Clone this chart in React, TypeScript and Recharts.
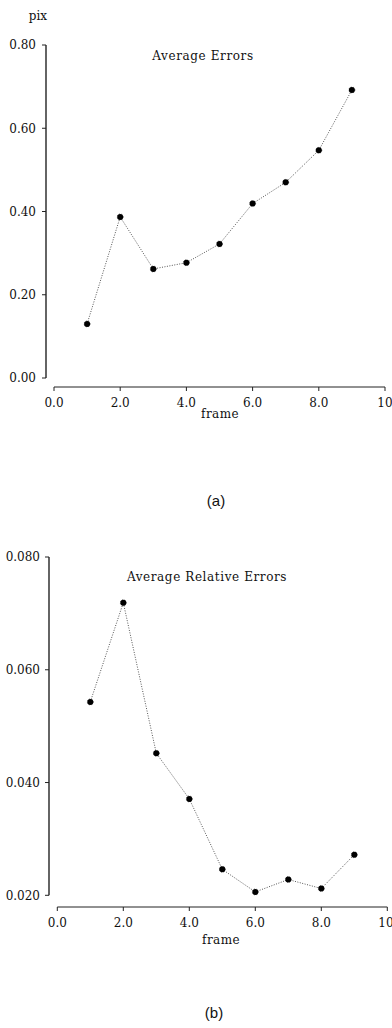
import { LineChart, Line, XAxis, YAxis } from "recharts";

const frames = [1, 2, 3, 4, 5, 6, 7, 8, 9];
const avgErrors = [0.13, 0.387, 0.262, 0.277, 0.322, 0.419, 0.47, 0.547, 0.692];
const avgRelErrors = [0.0543, 0.0719, 0.0452, 0.0371, 0.0246, 0.0206, 0.0228, 0.0212, 0.0272];
const xTicks = [0, 2, 4, 6, 8, 10];
const errTicks = [0, 0.2, 0.4, 0.6, 0.8];
const relTicks = [0.02, 0.04, 0.06, 0.08];

const errData = frames.map((f, i) => ({ frame: f, value: avgErrors[i] }));
const relData = frames.map((f, i) => ({ frame: f, value: avgRelErrors[i] }));

const serif = "DejaVu Serif";
const tickStyle = { fontFamily: serif, fontSize: 12, fill: "#111" };
const fmtX = (v: number) => (v === 10 ? "10" : v.toFixed(1));

const textBox = (left: number, top: number, size: number, family: string, spacing = 0) => ({
  position: "absolute" as const,
  left,
  top,
  transform: "translate(-50%, -50%)",
  fontFamily: family,
  fontSize: size,
  letterSpacing: spacing,
  lineHeight: 1,
  whiteSpace: "nowrap" as const,
  color: "#111",
});

function Plot({
  data,
  height,
  margin,
  yTicks,
  yDomain,
  yFmt,
  shiftY,
  shiftX,
  yTickMargin,
  xTickMargin,
}: {
  data: { frame: number; value: number }[];
  height: number;
  margin: { top: number; right: number; bottom: number; left: number };
  yTicks: number[];
  yDomain: [number, number];
  yFmt: (v: number) => string;
  shiftY: number;
  shiftX: number;
  yTickMargin: number;
  xTickMargin: number;
}) {
  return (
    <LineChart width={392} height={height} data={data} margin={margin}>
      <XAxis
        type="number"
        dataKey="frame"
        domain={[0, 10]}
        ticks={xTicks}
        tickFormatter={fmtX}
        height={30}
        tickSize={4}
        tickMargin={xTickMargin}
        tick={tickStyle}
        axisLine={{ stroke: "#222", strokeWidth: 1, transform: `translate(0 ${shiftY})` }}
        tickLine={{ stroke: "#222", transform: `translate(0 ${shiftY})` }}
      />
      <YAxis
        type="number"
        domain={yDomain}
        ticks={yTicks}
        tickFormatter={yFmt}
        width={40}
        tickSize={4}
        tickMargin={yTickMargin}
        tick={tickStyle}
        axisLine={{ stroke: "#111", strokeWidth: 1.3, transform: `translate(${-shiftX} 0)` }}
        tickLine={{ stroke: "#222", transform: `translate(${-shiftX} 0)` }}
      />
      <Line
        dataKey="value"
        stroke="#555"
        strokeWidth={1}
        strokeDasharray="1 1.5"
        dot={{ r: 3, fill: "#000", stroke: "#000", strokeWidth: 0.5 }}
        isAnimationActive={false}
      />
    </LineChart>
  );
}

export default function App() {
  return (
    <div
      style={{
        position: "absolute",
        left: 0,
        top: 0,
        width: 392,
        height: 1028,
        background: "#fff",
        overflow: "hidden",
      }}
    >
      <div style={{ position: "absolute", left: 0, top: 0 }}>
        <Plot
          data={errData}
          height={470}
          margin={{ top: 45, right: 7, bottom: 62, left: 14 }}
          yTicks={errTicks}
          yDomain={[0, 0.8]}
          yFmt={(v) => v.toFixed(2)}
          shiftY={9}
          shiftX={8}
          yTickMargin={14}
          xTickMargin={16}
        />
      </div>
      <div style={{ position: "absolute", left: 0, top: 470 }}>
        <Plot
          data={relData}
          height={558}
          margin={{ top: 87, right: 4.7, bottom: 102.7, left: 17.3 }}
          yTicks={relTicks}
          yDomain={[0.02, 0.08]}
          yFmt={(v) => v.toFixed(3)}
          shiftY={11.7}
          shiftX={8.3}
          yTickMargin={13.3}
          xTickMargin={19}
        />
      </div>
      <div style={textBox(38, 16, 12, serif)}>pix</div>
      <div style={textBox(203, 56, 12, serif, 0.6)}>Average Errors</div>
      <div style={textBox(220, 414, 12, serif, 0.4)}>frame</div>
      <div style={textBox(216, 500, 15, "Liberation Sans")}>(a)</div>
      <div style={textBox(207, 577, 12, serif, 0.6)}>Average Relative Errors</div>
      <div style={textBox(221, 940, 12, serif, 0.4)}>frame</div>
      <div style={textBox(214, 1012, 15, "Liberation Sans")}>(b)</div>
    </div>
  );
}
